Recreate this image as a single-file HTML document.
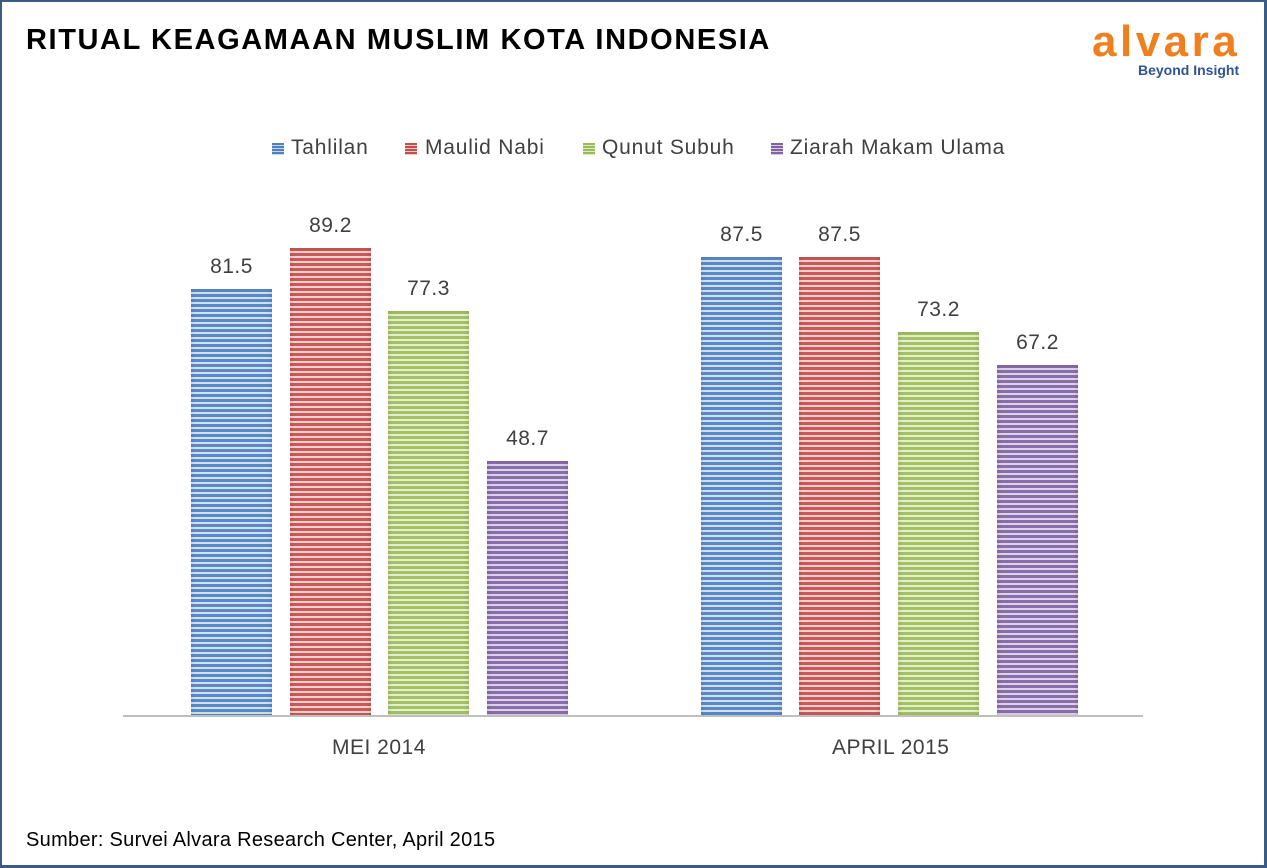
<!DOCTYPE html>
<html><head><meta charset="utf-8"><style>
body{margin:0;width:1267px;height:868px;background:#fff;font-family:"Liberation Sans",sans-serif;position:relative;overflow:hidden}
.frame{position:absolute;left:0;top:0;width:1262px;height:863px;border:2px solid #3c5a86;border-right:4px solid #3c5a86;border-bottom:3px solid #3c5a86;box-sizing:content-box}
.t{position:absolute;left:26px;top:24px;font-size:29px;font-weight:bold;color:#000;letter-spacing:1.6px}
.logo{position:absolute;left:1092px;top:20px;font-size:44px;font-weight:bold;color:#f0801e;letter-spacing:3.5px;line-height:44px}
.sub{position:absolute;left:1138px;top:62px;font-size:14px;font-weight:bold;color:#2f5496}
.leg{position:absolute;top:136px;font-size:21px;color:#404040;letter-spacing:0.8px}
.sw{position:absolute;top:143px;width:12px;height:12px}
.bar{position:absolute;width:81px;bottom:152px}
.v{position:absolute;font-size:21px;color:#404040;width:81px;text-align:center;letter-spacing:0.5px}
.ax{position:absolute;left:123px;top:715px;width:1020px;height:2px;background:#bfbfbf}
.cat{position:absolute;top:736px;font-size:21px;color:#404040;letter-spacing:0.5px}
.src{position:absolute;left:26px;top:829px;font-size:20px;color:#000;letter-spacing:0.3px}
.b{background:repeating-linear-gradient(var(--c) 0 3px,var(--l) 3px 5px);box-shadow:inset 0 0 6px rgba(0,0,0,.15)}
</style></head><body>
<div class="frame"></div>
<div class="t">RITUAL KEAGAMAAN MUSLIM KOTA INDONESIA</div>
<div class="logo">alvara</div>
<div class="sub">Beyond Insight</div>
<div class="sw" style="left:272px;background:repeating-linear-gradient(#4f81bd 0 2px,#c6d6ee 2px 3px)"></div><div class="leg" style="left:291px">Tahlilan</div>
<div class="sw" style="left:405px;background:repeating-linear-gradient(#c0504d 0 2px,#f0c8c7 2px 3px)"></div><div class="leg" style="left:425px">Maulid Nabi</div>
<div class="sw" style="left:583px;background:repeating-linear-gradient(#9bbb59 0 2px,#e0ecc8 2px 3px)"></div><div class="leg" style="left:602px">Qunut Subuh</div>
<div class="sw" style="left:771px;background:repeating-linear-gradient(#8064a2 0 2px,#d8cde6 2px 3px)"></div><div class="leg" style="left:790px">Ziarah Makam Ulama</div>
<div class="bar b" style="left:191px;top:289px;--c:#5a8ac6;--l:#d2e0f3"></div><div class="v" style="left:191px;top:255px">81.5</div>
<div class="bar b" style="left:290px;top:248px;--c:#c95a57;--l:#f3d0cf"></div><div class="v" style="left:290px;top:214px">89.2</div>
<div class="bar b" style="left:388px;top:311px;--c:#a4c264;--l:#e5efd0"></div><div class="v" style="left:388px;top:277px">77.3</div>
<div class="bar b" style="left:487px;top:461px;--c:#8a6eab;--l:#ddd3e9"></div><div class="v" style="left:487px;top:427px">48.7</div>
<div class="bar b" style="left:701px;top:257px;--c:#5a8ac6;--l:#d2e0f3"></div><div class="v" style="left:701px;top:223px">87.5</div>
<div class="bar b" style="left:799px;top:257px;--c:#c95a57;--l:#f3d0cf"></div><div class="v" style="left:799px;top:223px">87.5</div>
<div class="bar b" style="left:898px;top:332px;--c:#a4c264;--l:#e5efd0"></div><div class="v" style="left:898px;top:298px">73.2</div>
<div class="bar b" style="left:997px;top:365px;--c:#8a6eab;--l:#ddd3e9"></div><div class="v" style="left:997px;top:331px">67.2</div>
<div class="ax"></div>
<div class="cat" style="left:332px">MEI 2014</div>
<div class="cat" style="left:832px">APRIL 2015</div>
<div class="src">Sumber: Survei Alvara Research Center, April 2015</div>
</body></html>
